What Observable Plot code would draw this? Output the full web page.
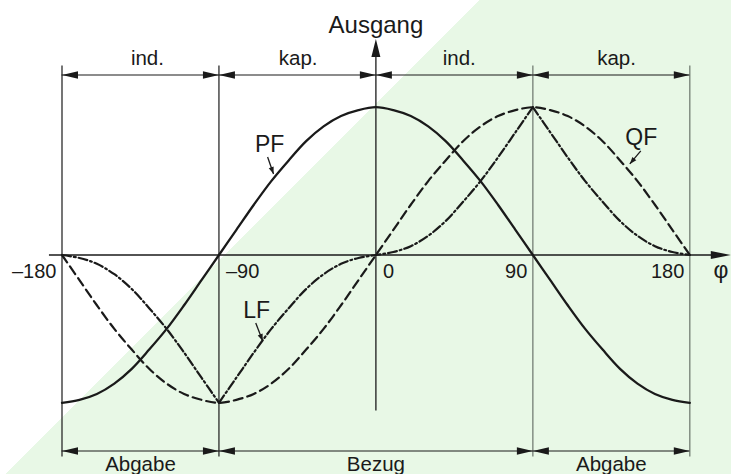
<!DOCTYPE html>
<html>
<head>
<meta charset="utf-8">
<script src="https://cdn.jsdelivr.net/npm/d3@7"></script>
<script src="https://cdn.jsdelivr.net/npm/@observablehq/plot@0.6"></script>
<style>
  html, body { margin: 0; padding: 0; background: #fff; }
  #chart {
    width: 731px; height: 474px; overflow: hidden;
    background: linear-gradient(135deg, #ffffff 339.4px, #e8f8e6 339.4px);
  }
</style>
</head>
<body>
<div id="chart"></div>
<script>
// ---- data ----
const phi = [-180,-170,-160,-150,-140,-130,-120,-110,-100,-90,-80,-70,-60,-50,-40,-30,-20,-10,0,
             10,20,30,40,50,60,70,80,90,100,110,120,130,140,150,160,170,180];
const pfValues = [-1,-0.98,-0.94,-0.87,-0.77,-0.64,-0.5,-0.34,-0.17,0,0.17,0.34,0.5,0.64,0.77,0.87,0.94,0.98,1,
                  0.98,0.94,0.87,0.77,0.64,0.5,0.34,0.17,0,-0.17,-0.34,-0.5,-0.64,-0.77,-0.87,-0.94,-0.98,-1];
const qfValues = [0,-0.17,-0.34,-0.5,-0.64,-0.77,-0.87,-0.94,-0.98,-1,-0.98,-0.94,-0.87,-0.77,-0.64,-0.5,-0.34,-0.17,0,
                  0.17,0.34,0.5,0.64,0.77,0.87,0.94,0.98,1,0.98,0.94,0.87,0.77,0.64,0.5,0.34,0.17,0];
const lfValues = [0,-0.02,-0.06,-0.13,-0.23,-0.36,-0.5,-0.66,-0.83,-1,-0.83,-0.66,-0.5,-0.36,-0.23,-0.13,-0.06,-0.02,0,
                  0.02,0.06,0.13,0.23,0.36,0.5,0.66,0.83,1,0.83,0.66,0.5,0.36,0.23,0.13,0.06,0.02,0];
const tickValues = [-180,-90,0,90,180];
const tickLabels = ["–180","–90","0","90","180"];
const topStarts = [-180,-90,0,90];
const topEnds   = [-90,0,90,180];
const topLabels = ["ind.","kap.","ind.","kap."];
const topLabelAt = [-131,-44.6,47.8,138];
const bottomStarts = [-180,-90,90];
const bottomEnds   = [-90,90,180];
const bottomLabels = ["Abgabe","Bezug","Abgabe"];
const bottomLabelAt = [-135,0,135];
const curveNames = ["PF","QF","LF"];
const yTitle = "Ausgang";
const xTitle = "φ";

// ---- tables ----
const pfRows = phi.map((p,i) => ({phi: p, v: pfValues[i]}));
const qfRows = phi.map((p,i) => ({phi: p, v: qfValues[i]}));
const lfRows = phi.flatMap((p,i) => {
  const rows = [];
  if (p <= -90) rows.push({phi: p, v: lfValues[i], seg: "a"});
  if (p >= -90 && p <= 90) rows.push({phi: p, v: lfValues[i], seg: "b"});
  if (p >= 90) rows.push({phi: p, v: lfValues[i], seg: "c"});
  return rows;
});
const topRows = topStarts.map((s,i) => ({s, e: topEnds[i], label: topLabels[i], at: topLabelAt[i]}));
const bottomRows = bottomStarts.map((s,i) => ({s, e: bottomEnds[i], label: bottomLabels[i], at: bottomLabelAt[i]}));
const tickRows = tickValues.map((t,i) => ({t, label: tickLabels[i]}));

// ---- layout constants (data units) ----
const INK = "#1a1a1a";
const yTopDim = 1.218, yBotDim = -1.326;
const yLineTop = 1.279, yLineBot = -1.367;

const head = (w) => ({draw(ctx, l) { ctx.moveTo(0, -l); ctx.lineTo(w, 0); ctx.lineTo(-w, 0); ctx.closePath(); }});

function arrowHeads(rows, y) {
  const pts = rows.flatMap(r => [{x: r.s, rot: -90}, {x: r.e, rot: 90}]);
  return Plot.vector(pts, {x: "x", y: () => y, rotate: "rot", length: 16, anchor: "end",
    shape: head(3.8), fill: INK, stroke: "none"});
}

const pointerRows = [
  {lx: -60.96, ly: 0.697, x1: -62.1, y1: 0.663, x2: -58.7, y2: 0.548, rot: 160.6},
  {lx: 152.2, ly: 0.744, x1: 151.9, y1: 0.704, x2: 145.6, y2: 0.616, rot: -139.8},
  {lx: -68.4, ly: -0.426, x1: -68.9, y1: -0.46, x2: -64.9, y2: -0.582, rot: 158.7}
];

const chart = Plot.plot({
  width: 731, height: 474,
  marginLeft: 61.5, marginRight: 41.7, marginTop: 106.7, marginBottom: 71.7,
  x: {domain: [-180, 180], axis: null},
  y: {domain: [-1, 1], axis: null},
  style: {background: "transparent", fontFamily: "'Liberation Sans', Arial, sans-serif", fontSize: "20px", color: INK},
  marks: [
    // region boundaries
    Plot.ruleX([-180, -90], {y1: yLineBot, y2: yLineTop, stroke: INK, strokeWidth: 1.2}),
    Plot.ruleX([90, 180], {y1: yLineBot, y2: yLineTop, stroke: "#7c877c", strokeWidth: 1.4}),
    // x axis
    Plot.ruleY([0], {x1: -187.2, x2: 194, stroke: INK, strokeWidth: 1.3}),
    Plot.vector([0], {x: () => 203.5, y: () => 0, rotate: 90, length: 20, anchor: "end", shape: head(4), fill: INK, stroke: "none"}),
    // y axis
    Plot.ruleX([0], {y1: -1.055, y2: 1.36, stroke: INK, strokeWidth: 1.3}),
    Plot.vector([0], {x: () => 0, y: () => 1.461, rotate: 0, length: 18, anchor: "end", shape: head(4.5), fill: INK, stroke: "none"}),
    // dimension lines
    Plot.ruleY([yTopDim], {x1: -180, x2: 180, stroke: INK, strokeWidth: 1.2}),
    arrowHeads(topRows, yTopDim),
    Plot.ruleY([yBotDim], {x1: -180, x2: 180, stroke: INK, strokeWidth: 1.2}),
    arrowHeads(bottomRows, yBotDim),
    Plot.text(topRows, {x: "at", y: () => 1.2855, text: "label", lineAnchor: "bottom", fontSize: 20.5, fill: INK}),
    Plot.text(bottomRows, {x: "at", y: () => -1.464, text: "label", lineAnchor: "bottom", fontSize: 20.5, fill: INK}),
    // tick labels
    Plot.text(tickRows.filter(d => d.t === -180 || d.t === 90 || d.t === 180), {x: "t", y: () => -0.156, text: "label", lineAnchor: "bottom", textAnchor: "end", dx: -5.5, fontSize: 20, fill: INK}),
    Plot.text(tickRows.filter(d => d.t === -90 || d.t === 0), {x: "t", y: () => -0.156, text: "label", lineAnchor: "bottom", textAnchor: "start", dx: 7, fontSize: 20, fill: INK}),
    // axis titles
    Plot.text([yTitle], {x: () => 0, y: () => 1.502, text: d => d, lineAnchor: "bottom", fontSize: 24, fill: INK}),
    Plot.text([xTitle], {x: () => 197.8, y: () => -0.156, text: d => d, lineAnchor: "bottom", fontSize: 23, fill: INK}),
    // curves
    Plot.line(pfRows, {x: "phi", y: "v", curve: "catmull-rom", stroke: INK, strokeWidth: 2.3}),
    Plot.line(qfRows, {x: "phi", y: "v", curve: "catmull-rom", stroke: INK, strokeWidth: 2.2, strokeDasharray: "9,5"}),
    Plot.line(lfRows, {x: "phi", y: "v", z: "seg", curve: "catmull-rom", stroke: INK, strokeWidth: 2.2, strokeDasharray: "9,3,1.8,3"}),
    // curve labels with pointers
    Plot.text(pointerRows, {x: "lx", y: "ly", text: (d, i) => curveNames[i], lineAnchor: "bottom", fontSize: 23, fill: INK}),
    Plot.link(pointerRows, {x1: "x1", y1: "y1", x2: "x2", y2: "y2", stroke: INK, strokeWidth: 1.3}),
    Plot.vector(pointerRows, {x: "x2", y: "y2", rotate: "rot", length: 7, anchor: "end", shape: head(2.6), fill: INK, stroke: "none"})
  ]
});
document.getElementById("chart").appendChild(chart);
</script>
</body>
</html>
